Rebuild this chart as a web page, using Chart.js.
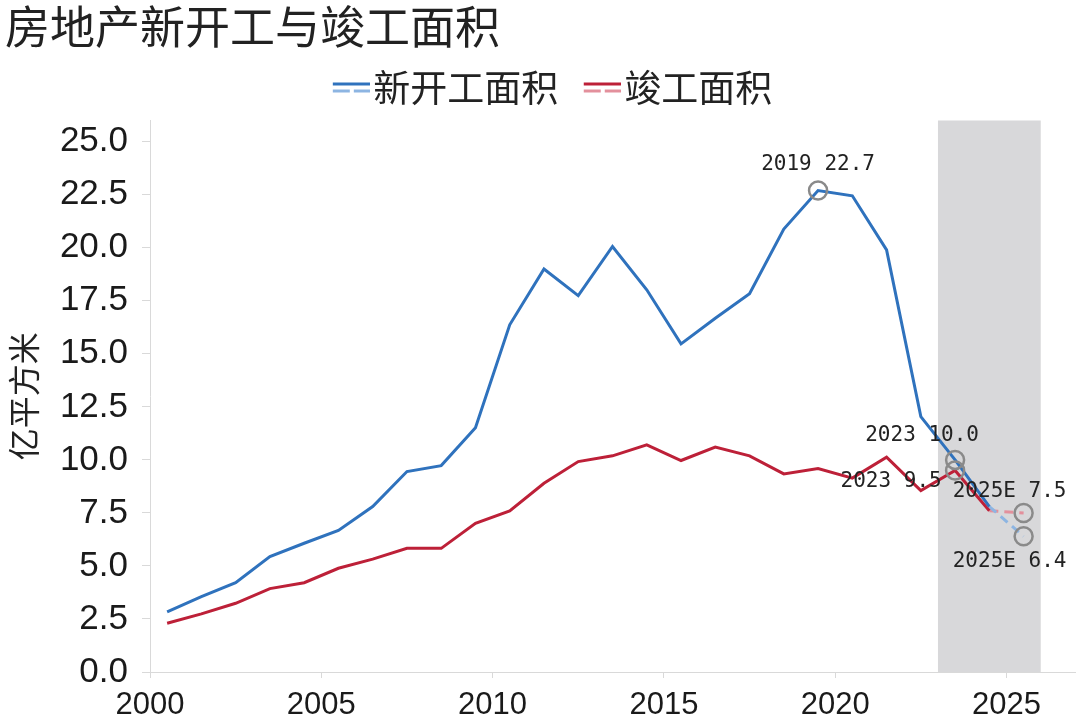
<!DOCTYPE html>
<html>
<head>
<meta charset="utf-8">
<script src="https://cdn.jsdelivr.net/npm/chart.js@4/dist/chart.umd.min.js"></script>
<style>
html,body{margin:0;padding:0;background:#fff;}
#wrap{width:1080px;height:726px;position:relative;}
</style>
</head>
<body>
<div id="wrap"><canvas id="c" width="1080" height="726"></canvas></div>
<script>
// ---------- data ----------
const chartTitle = '房地产新开工与竣工面积';
const seriesNames = ['新开工面积', '竣工面积'];
const yAxisTitle = '亿平方米';
const actualYears = [2000,2001,2002,2003,2004,2005,2006,2007,2008,2009,2010,2011,2012,2013,2014,2015,2016,2017,2018,2019,2020,2021,2022,2023,2024];
const newStartActual = [2.83,3.55,4.21,5.44,6.07,6.67,7.80,9.45,9.73,11.52,16.37,19.00,17.74,20.06,18.02,15.47,16.68,17.83,20.88,22.70,22.45,19.90,12.04,10.00,7.80];
const completionActual = [2.30,2.74,3.24,3.93,4.21,4.89,5.32,5.83,5.83,7.01,7.59,8.90,9.92,10.19,10.71,9.97,10.60,10.19,9.34,9.59,9.14,10.13,8.55,9.50,7.60];
const forecastYears = [2024, 2025];
const newStartForecast = [7.80, 6.40];
const completionForecast = [7.60, 7.50];
const yTicks = [0, 2.5, 5, 7.5, 10, 12.5, 15, 17.5, 20, 22.5, 25];
const xTicks = [2000, 2005, 2010, 2015, 2020, 2025];
const shadeYears = [2023, 2026];
// highlighted points: series index (0 new starts, 1 completions), year, estimate flag
const highlightSeries = [0, 0, 1, 1, 0];
const highlightYears = [2019, 2023, 2023, 2025, 2025];
const highlightEstimate = [false, false, false, true, true];

// ---------- helpers ----------
const MID = 0.5; // annual values plotted at mid-year
function toPoints(xs, ys) { return xs.map((x, i) => ({ x: x + MID, y: ys[i] })); }
function valueOf(series, year) {
  const act = series === 0 ? newStartActual : completionActual;
  const fc = series === 0 ? newStartForecast : completionForecast;
  const fi = forecastYears.indexOf(year);
  if (year > actualYears[actualYears.length - 1] && fi >= 0) return fc[fi];
  const ai = actualYears.indexOf(year);
  return ai >= 0 ? act[ai] : fc[fi];
}
const highlightPoints = highlightYears.map((yr, i) => ({ x: yr + MID, y: valueOf(highlightSeries[i], yr) }));
const highlightLabels = highlightYears.map((yr, i) => yr + (highlightEstimate[i] ? 'E' : '') + ' ' + valueOf(highlightSeries[i], yr).toFixed(1));

const BLUE = '#2f72bd', BLUE_L = '#8db5e2', RED = '#bd2038', RED_L = '#e3909c';

function makeMarker(solid, light) {
  const c = document.createElement('canvas');
  c.width = 44; c.height = 14;
  const g = c.getContext('2d');
  g.lineWidth = 3;
  g.strokeStyle = solid;
  g.beginPath(); g.moveTo(7, 3.5); g.lineTo(44, 3.5); g.stroke();
  g.strokeStyle = light;
  g.setLineDash([17, 4]);
  g.beginPath(); g.moveTo(7, 10.5); g.lineTo(44, 10.5); g.stroke();
  return c;
}
const markers = [makeMarker(BLUE, BLUE_L), makeMarker(RED, RED_L)];

// label placement offsets (px) relative to highlighted point
const labelOffsets = [[0, -26], [-33, -24], [-64, 11], [-14, -21], [-14, 25]];
const LEGEND_SHIFT = 16.5;

const annotPlugin = {
  id: 'annot',
  afterLayout(chart) {
    if (chart.legend) { chart.legend.left += LEGEND_SHIFT; chart.legend.right += LEGEND_SHIFT; }
  },
  beforeDatasetsDraw(chart) {
    const { ctx, chartArea, scales } = chart;
    const x1 = scales.x.getPixelForValue(shadeYears[0]);
    const x2 = scales.x.getPixelForValue(shadeYears[1]);
    ctx.save();
    ctx.fillStyle = '#d8d8da';
    ctx.fillRect(x1, chartArea.top, x2 - x1, chartArea.bottom - chartArea.top);
    ctx.restore();
  },
  afterDatasetsDraw(chart) {
    const { ctx, scales } = chart;
    ctx.save();
    ctx.font = '21px "DejaVu Sans Mono"';
    ctx.fillStyle = '#222';
    ctx.textAlign = 'center';
    ctx.textBaseline = 'middle';
    highlightPoints.forEach((p, i) => {
      const px = scales.x.getPixelForValue(p.x);
      const py = scales.y.getPixelForValue(p.y);
      ctx.fillText(highlightLabels[i], px + labelOffsets[i][0], py + labelOffsets[i][1]);
    });
    ctx.restore();
  }
};

new Chart(document.getElementById('c'), {
  type: 'line',
  data: {
    datasets: [
      { label: seriesNames[0], data: toPoints(actualYears, newStartActual), borderColor: BLUE, borderWidth: 3, pointRadius: 0, tension: 0 },
      { label: seriesNames[1], data: toPoints(actualYears, completionActual), borderColor: RED, borderWidth: 3, pointRadius: 0, tension: 0 },
      { label: seriesNames[0] + '预测', data: toPoints(forecastYears, newStartForecast), borderColor: BLUE_L, borderWidth: 3, borderDash: [9, 6], pointRadius: 0, tension: 0 },
      { label: seriesNames[1] + '预测', data: toPoints(forecastYears, completionForecast), borderColor: RED_L, borderWidth: 3, borderDash: [9, 6], pointRadius: 0, tension: 0 },
      { label: 'highlight', data: highlightPoints, showLine: false, pointRadius: 9, pointHoverRadius: 9, pointBorderWidth: 2.5, pointBorderColor: '#8a8a8a', pointBackgroundColor: 'rgba(0,0,0,0)', order: -1 }
    ]
  },
  options: {
    responsive: false,
    animation: false,
    devicePixelRatio: 1,
    layout: { autoPadding: false, padding: { left: 5, right: 5, top: 0, bottom: 0 } },
    plugins: {
      tooltip: { enabled: false },
      title: {
        display: true, text: chartTitle, align: 'start', color: '#222',
        font: { family: '"Noto Sans CJK SC"', size: 45, weight: 'normal', lineHeight: 1.2 },
        padding: { top: 0, bottom: 0 }
      },
      subtitle: {
        display: true, text: '', weight: 500,
        font: { size: 1, lineHeight: 1 }, padding: { top: 0, bottom: 3.5 }
      },
      legend: {
        display: true, position: 'top', align: 'center',
        labels: {
          usePointStyle: true, pointStyleWidth: 14, padding: 15, color: '#222',
          font: { family: '"Noto Sans CJK SC"', size: 37 },
          generateLabels: () => seriesNames.map((n, i) => ({
            text: i === 0 ? n + '\u2002' : n,
            pointStyle: markers[i], datasetIndex: i, hidden: false,
            fillStyle: 'rgba(0,0,0,0)', strokeStyle: 'rgba(0,0,0,0)', lineWidth: 0, fontColor: '#222'
          }))
        }
      }
    },
    scales: {
      x: {
        type: 'linear', min: 2000, max: 2027,
        afterBuildTicks: s => { s.ticks = xTicks.map(v => ({ value: v })); },
        afterFit: s => { s.height = 54; },
        ticks: { font: { family: '"Liberation Sans"', size: 31 }, color: '#1a1a1a', padding: 9, maxRotation: 0, autoSkip: false, callback: v => String(v) },
        grid: { drawOnChartArea: false, drawTicks: true, tickLength: 6, color: '#d9d9d9' },
        border: { color: '#d9d9d9', width: 1 }
      },
      y: {
        type: 'linear', min: 0, max: 26,
        afterBuildTicks: s => { s.ticks = yTicks.map(v => ({ value: v })); },
        afterFit: s => { s.width = 145; },
        ticks: { font: { family: '"Liberation Sans"', size: 35 }, color: '#1a1a1a', padding: 14, autoSkip: false, callback: v => Number(v).toFixed(1) },
        grid: { drawOnChartArea: false, drawTicks: true, tickLength: 8, color: '#d9d9d9' },
        border: { color: '#d9d9d9', width: 1 },
        title: { display: true, text: yAxisTitle, color: '#222', font: { family: '"Noto Sans CJK SC"', size: 32 }, padding: { top: 0, bottom: 0 } }
      }
    }
  },
  plugins: [annotPlugin]
});
</script>
</body>
</html>
